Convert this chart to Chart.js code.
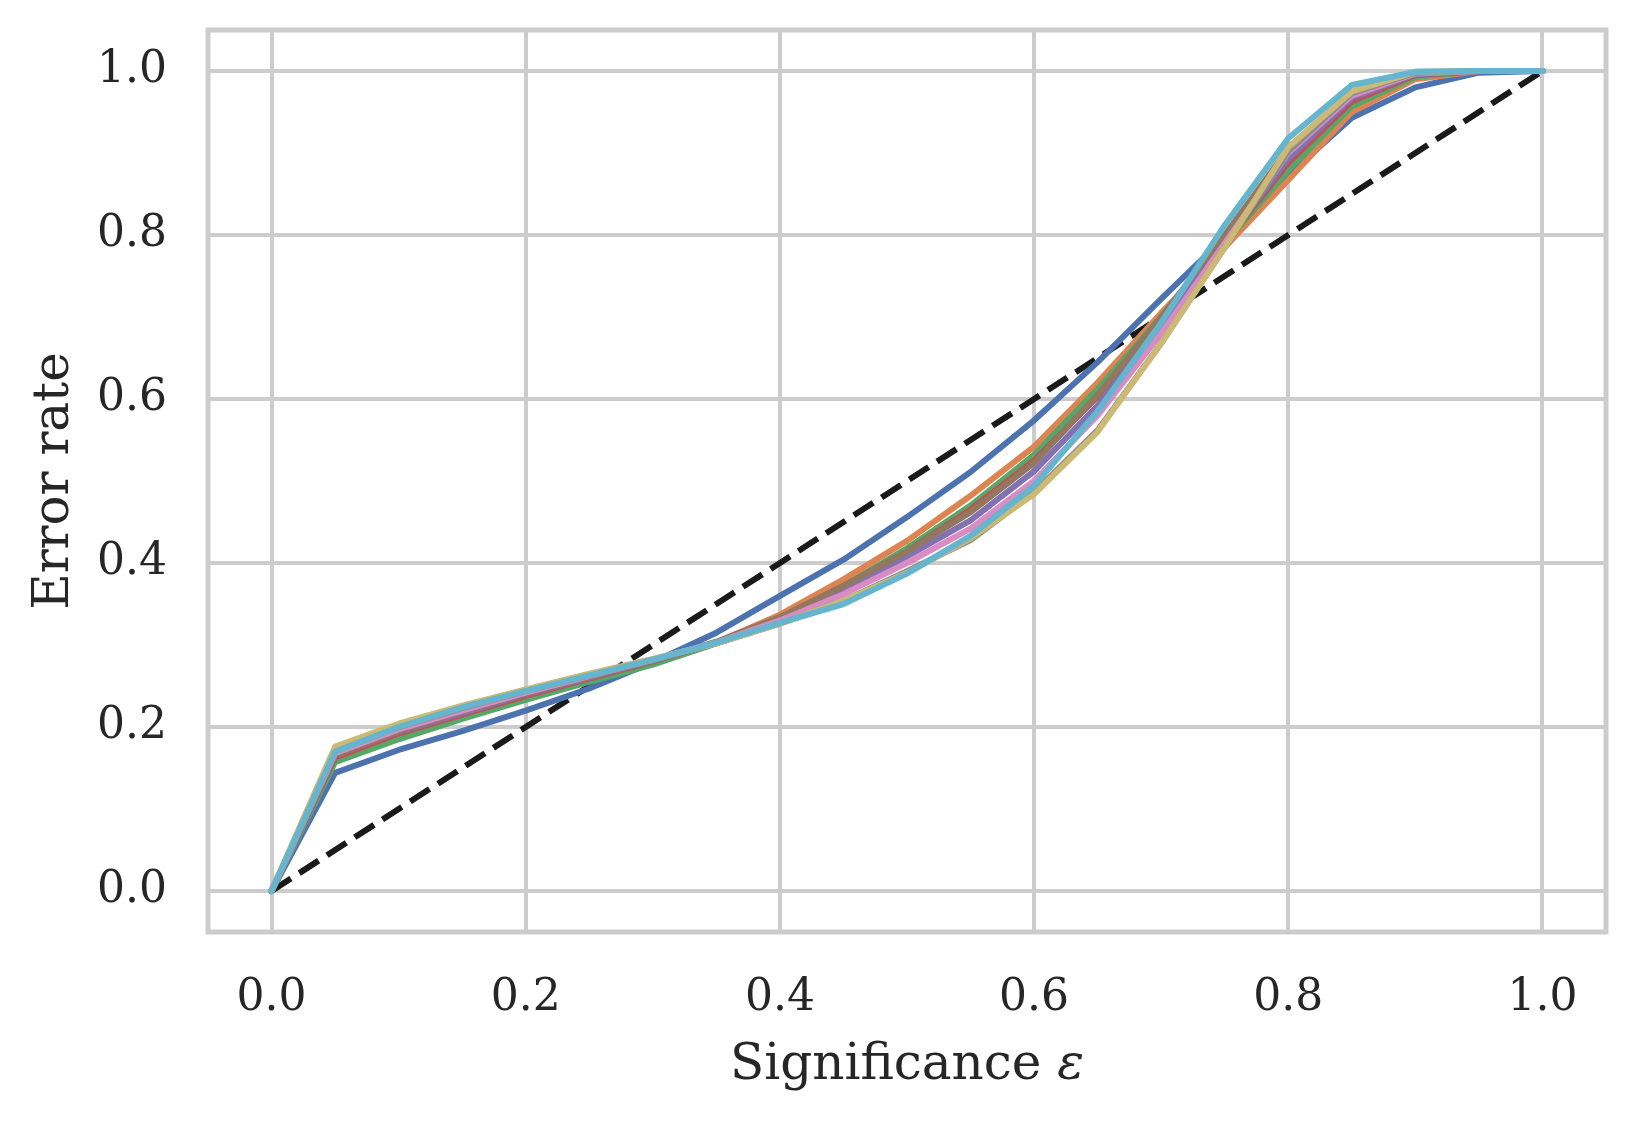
<!DOCTYPE html>
<html>
<head>
<meta charset="utf-8">
<script src="https://cdn.jsdelivr.net/npm/chart.js@4.4.0/dist/chart.umd.min.js"></script>
<style>
  html, body { margin: 0; padding: 0; background: #ffffff; }
</style>
</head>
<body>
<canvas id="calibChart" width="1633" height="1121"></canvas>
<script>
// Significance levels (x) shared by every model curve
const significance = [0, 0.05, 0.10, 0.15, 0.20, 0.25, 0.30, 0.35, 0.40, 0.45, 0.50,
                      0.55, 0.60, 0.65, 0.70, 0.75, 0.80, 0.85, 0.90, 0.95, 1.0];

// Error rate per curve
const errBlue   = [0, 0.144, 0.172, 0.195, 0.220, 0.247, 0.279, 0.315, 0.360, 0.404, 0.456, 0.511, 0.574, 0.645, 0.722, 0.797, 0.873, 0.943, 0.980, 0.998, 1.0];
const errOrange = [0, 0.160, 0.188, 0.212, 0.235, 0.257, 0.279, 0.303, 0.337, 0.380, 0.427, 0.482, 0.542, 0.620, 0.705, 0.785, 0.867, 0.950, 0.990, 1.0, 1.0];
const errGreen  = [0, 0.157, 0.185, 0.210, 0.233, 0.255, 0.276, 0.302, 0.333, 0.372, 0.418, 0.470, 0.532, 0.612, 0.700, 0.790, 0.879, 0.957, 0.993, 1.0, 1.0];
const errRed    = [0, 0.163, 0.192, 0.215, 0.238, 0.259, 0.280, 0.303, 0.333, 0.372, 0.414, 0.465, 0.525, 0.603, 0.695, 0.790, 0.888, 0.963, 0.995, 1.0, 1.0];
const errPurple = [0, 0.166, 0.194, 0.217, 0.240, 0.260, 0.281, 0.303, 0.332, 0.368, 0.408, 0.452, 0.512, 0.592, 0.690, 0.790, 0.893, 0.967, 0.996, 1.0, 1.0];
const errBrown  = [0, 0.166, 0.195, 0.219, 0.241, 0.261, 0.281, 0.304, 0.334, 0.372, 0.414, 0.462, 0.522, 0.605, 0.700, 0.800, 0.905, 0.972, 0.998, 1.0, 1.0];
const errPink   = [0, 0.168, 0.197, 0.220, 0.242, 0.262, 0.282, 0.303, 0.330, 0.362, 0.400, 0.442, 0.500, 0.580, 0.680, 0.790, 0.900, 0.970, 0.997, 1.0, 1.0];
const errGray   = [0, 0.172, 0.200, 0.223, 0.244, 0.263, 0.282, 0.302, 0.326, 0.354, 0.390, 0.428, 0.486, 0.562, 0.668, 0.785, 0.902, 0.973, 0.998, 1.0, 1.0];
const errOlive  = [0, 0.176, 0.204, 0.226, 0.246, 0.265, 0.283, 0.302, 0.326, 0.354, 0.388, 0.430, 0.484, 0.560, 0.668, 0.785, 0.907, 0.975, 0.999, 1.0, 1.0];
const errCyan   = [0, 0.170, 0.200, 0.224, 0.244, 0.263, 0.282, 0.303, 0.327, 0.350, 0.387, 0.433, 0.494, 0.585, 0.693, 0.812, 0.918, 0.983, 0.999, 1.0, 1.0];

const curves = [errBlue, errOrange, errGreen, errRed, errPurple, errBrown, errPink, errGray, errOlive, errCyan];
// seaborn "deep" palette
const palette = ['#4C72B0', '#DD8452', '#55A868', '#C44E52', '#8172B3',
                 '#937860', '#DA8BC3', '#8C8C8C', '#CCB974', '#64B5CD'];

// ideal calibration line
const idealX = [0, 1];
const idealY = [0, 1];

// ticks on both axes
const tickValues = [0, 0.2, 0.4, 0.6, 0.8, 1.0];

const SERIF = "'DejaVu Serif', serif";
const TEXT = '#262626';
const GRID = '#cccccc';

function toPoints(xs, ys) {
    return xs.map((x, i) => ({ x: x, y: ys[i] }));
}

const datasets = [{
    label: 'ideal',
    data: toPoints(idealX, idealY),
    borderColor: '#1a1a1a',
    borderWidth: 6,
    borderDash: [23, 10],
    pointRadius: 0,
    fill: false,
    tension: 0,
    order: curves.length + 1 // drawn first, under the curves
}];
curves.forEach((ys, i) => {
    datasets.push({
        label: 'model ' + (i + 1),
        data: toPoints(significance, ys),
        borderColor: palette[i],
        borderWidth: 6,
        pointRadius: 0,
        fill: false,
        tension: 0,
        borderJoinStyle: 'round',
        borderCapStyle: 'round',
        order: curves.length - i // later curves end up on top, like matplotlib
    });
});

// frame around the plot area + x title with italic epsilon
const framePlugin = {
    id: 'frame',
    beforeDatasetsDraw(chart) {
        const { ctx, chartArea: a } = chart;
        ctx.save();
        ctx.strokeStyle = GRID;
        ctx.lineWidth = 5;
        ctx.strokeRect(a.left, a.top, a.right - a.left, a.bottom - a.top);
        ctx.restore();
    },
    afterDraw(chart) {
        const { ctx, chartArea: a } = chart;
        const main = 'Significance ';
        const sym = 'ε';
        ctx.save();
        ctx.fillStyle = TEXT;
        ctx.textBaseline = 'alphabetic';
        ctx.font = '50px ' + SERIF;
        const w1 = ctx.measureText(main).width;
        ctx.font = 'italic 50px ' + SERIF;
        const w2 = ctx.measureText(sym).width;
        const x0 = (a.left + a.right) / 2 - (w1 + w2) / 2;
        const yb = 1079;
        ctx.font = '50px ' + SERIF;
        ctx.fillText(main, x0, yb);
        ctx.font = 'italic 50px ' + SERIF;
        ctx.fillText(sym, x0 + w1, yb);
        ctx.restore();
    }
};

function loadChart() {
    const canvas = document.getElementById('calibChart');
    new Chart(canvas, {
        type: 'line',
        data: { datasets: datasets },
        options: {
            responsive: false,
            animation: false,
            devicePixelRatio: 1,
            layout: { padding: { left: 0, right: 27, top: 30, bottom: 0 } },
            plugins: {
                legend: { display: false },
                tooltip: { enabled: false }
            },
            scales: {
                x: {
                    type: 'linear',
                    min: -0.05,
                    max: 1.05,
                    afterBuildTicks: (scale) => { scale.ticks = tickValues.map(v => ({ value: v })); },
                    afterFit: (scale) => {
                        scale.height = 189;
                        scale.paddingLeft = 0;
                        scale.paddingRight = 0;
                    },
                    grid: { color: GRID, lineWidth: 4, drawTicks: false },
                    border: { display: false },
                    ticks: {
                        padding: 40,
                        color: TEXT,
                        font: { family: SERIF, size: 44 },
                        callback: (v) => Number(v).toFixed(1),
                        maxRotation: 0
                    },
                    title: { display: false }
                },
                y: {
                    type: 'linear',
                    min: -0.05,
                    max: 1.05,
                    afterBuildTicks: (scale) => { scale.ticks = tickValues.map(v => ({ value: v })); },
                    afterFit: (scale) => {
                        scale.width = 208;
                        scale.paddingTop = 0;
                        scale.paddingBottom = 0;
                    },
                    grid: { color: GRID, lineWidth: 4, drawTicks: false },
                    border: { display: false },
                    ticks: {
                        padding: 41,
                        color: TEXT,
                        font: { family: SERIF, size: 44 },
                        callback: (v) => Number(v).toFixed(1)
                    },
                    title: {
                        display: true,
                        text: 'Error rate',
                        color: TEXT,
                        font: { family: SERIF, size: 50 },
                        padding: { top: 25, bottom: 0 }
                    }
                }
            }
        },
        plugins: [framePlugin]
    });
}

window.addEventListener('load', loadChart);
</script>
</body>
</html>
